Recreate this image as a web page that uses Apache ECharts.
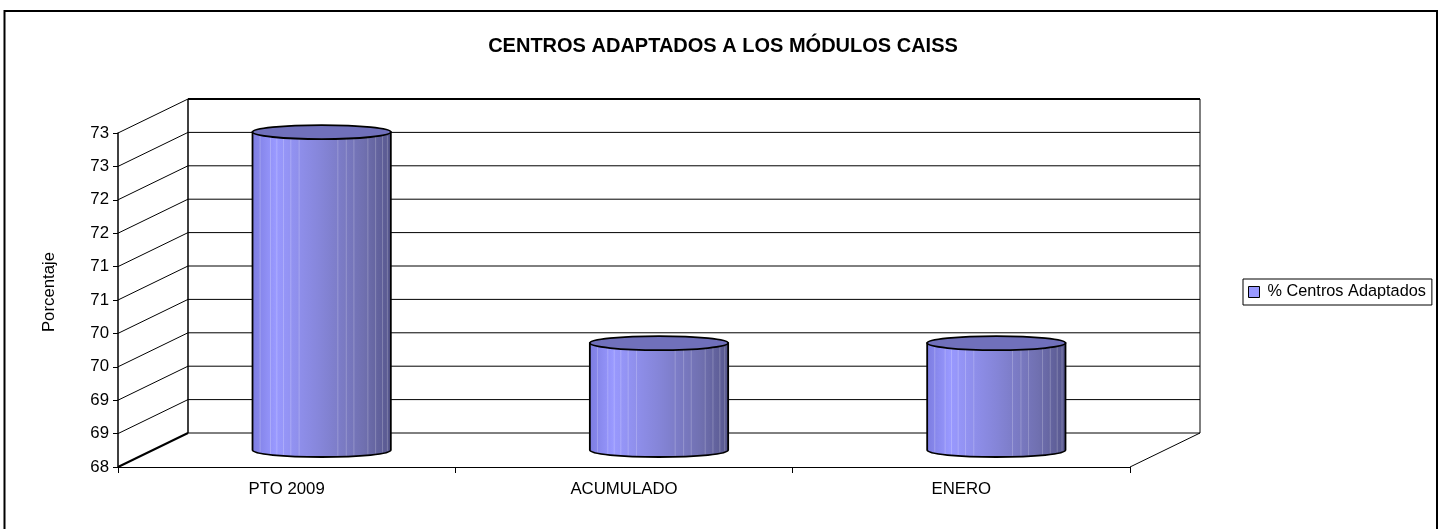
<!DOCTYPE html>
<html><head><meta charset="utf-8">
<style>html,body{margin:0;padding:0;background:#fff}#c{width:1446px;height:529px}</style>
<script src="https://cdn.jsdelivr.net/npm/echarts@6/dist/echarts.min.js"></script>
</head><body><div id="c"></div>
<script>
const categories = ['PTO 2009', 'ACUMULADO', 'ENERO'];
const seriesName = '% Centros Adaptados';
const values = [72.76, 69.6, 69.6];
const yTicks = [68, 68.5, 69, 69.5, 70, 70.5, 71, 71.5, 72, 72.5, 73];
const axisMin = 68, axisMax = 73, axisStep = 0.5;
const titleText = 'CENTROS ADAPTADOS A LOS MÓDULOS CAISS';
const yName = 'Porcentaje';

const DX = 70, DY = -34;         // oblique depth of the 3D box
const FONT = '"Liberation Sans", Arial, sans-serif';
const BAR_FRAC = 0.41, RY = 7;
const stripes = [.055,.13,.176,.224,.277,.337,.617,.678,.733,.834,.89,.94,.975];
const bodyFill = {type:'linear',x:0,y:0,x2:1,y2:0,colorStops:[
  {offset:0,color:'#7c7ce0'},{offset:.17,color:'#9999ff'},{offset:.5,color:'#8585d8'},
  {offset:.8,color:'#7070b0'},{offset:1,color:'#56568c'}]};

const ln = (x1,y1,x2,y2,w,stroke) => ({type:'line',shape:{x1,y1,x2,y2},style:{stroke:stroke||'#000',lineWidth:w||1},silent:true});

const chart = echarts.init(document.getElementById('c'), null, {renderer:'canvas'});
chart.setOption({
  animation:false,
  backgroundColor:'#fff',
  textStyle:{fontFamily:FONT},
  title:{text:titleText,left:718,top:31,textAlign:'center',
    textStyle:{fontFamily:FONT,fontSize:20,fontWeight:'bold',color:'#000'}},
  legend:{
    left:1243,top:279,orient:'vertical',padding:[5,6,5,5],
    borderColor:'#000',borderWidth:1,backgroundColor:'#fff',
    itemWidth:11,itemHeight:11,itemGap:0,
    textStyle:{fontFamily:FONT,fontSize:16.3,color:'#000',padding:[0,0,0,3]},
    data:[{name:seriesName,icon:'rect',itemStyle:{color:'#9999ff',borderColor:'#000',borderWidth:1}}]
  },
  graphic:[{type:'polyline',silent:true,z:-1,shape:{points:[[4.5,529],[4.5,11],[1437,11],[1437,529]]},
    style:{fill:'none',stroke:'#000',lineWidth:2}}],
  grid:{left:118,right:316,top:133,height:334,containLabel:false},
  xAxis:{type:'category',data:categories,boundaryGap:true,
    axisLine:{show:true,lineStyle:{color:'#000',width:1}},
    axisTick:{show:true,length:6,alignWithLabel:false,lineStyle:{color:'#000'}},
    axisLabel:{color:'#000',fontSize:16.8,fontFamily:FONT,margin:14,interval:0},
    splitLine:{show:false}},
  yAxis:{type:'value',min:axisMin,max:axisMax,interval:axisStep,
    name:yName,nameLocation:'middle',nameRotate:90,nameGap:60,
    nameTextStyle:{color:'#000',fontSize:16.8,fontFamily:FONT,padding:[0,0,0,16]},
    axisLine:{show:true,lineStyle:{color:'#000',width:1.5}},
    axisTick:{show:true,length:5,lineStyle:{color:'#000'}},
    axisLabel:{color:'#000',fontSize:16.8,fontFamily:FONT,margin:9,formatter:v=>String(Math.round(v))},
    splitLine:{show:false}},
  series:[
    { // box walls, drawn from the axis scale
      type:'custom',name:'walls',coordinateSystem:'cartesian2d',silent:true,z:1,
      data:yTicks.map(t=>[0,t]),clip:false,legendHoverLink:false,
      encode:{x:0,y:1},
      renderItem(params,api){
        const t=api.value(1);
        const halfBand=api.size([1,0])[0]/2;
        const p=api.coord([0,t]);
        const x0=p[0]-halfBand, y=p[1];
        const right=x0+halfBand*2*categories.length;
        const bottom=api.coord([0,axisMin])[1], top=api.coord([0,axisMax])[1];
        const ch=[ln(x0,y,x0+DX,y+DY,t===axisMin?2:1),
                  ln(x0+DX,y+DY,right+DX,y+DY,t===axisMax?2:1)];
        if(t===axisMin){
          ch.push(ln(x0+DX,top+DY,x0+DX,bottom+DY,1.5));
          ch.push(ln(right+DX,top+DY,right+DX,bottom+DY,1));
          ch.push(ln(right,bottom,right+DX,bottom+DY,1));
        }
        return {type:'group',children:ch};
      }
    },
    { // cylinders
      type:'custom',name:seriesName,coordinateSystem:'cartesian2d',z:3,clip:false,
      itemStyle:{color:'#9999ff'},
      data:values.map((v,i)=>[i,v]),
      encode:{x:0,y:1},
      renderItem(params,api){
        const i=api.value(0), v=api.value(1);
        const band=api.size([1,0])[0];
        const w=band*BAR_FRAC;
        const cx=api.coord([i,v])[0]+DX/2;
        const ty=api.coord([i,v])[1]+DY/2;
        const by=api.coord([i,axisMin])[1]+DY/2;
        const L=cx-w/2,R=cx+w/2;
        const k=0.5523;
        const bodyPath=`M${L} ${ty}L${L} ${by}C${L} ${by+RY*k*1.05} ${cx-w/2*k} ${by+RY} ${cx} ${by+RY}`+
          `C${cx+w/2*k} ${by+RY} ${R} ${by+RY*k*1.05} ${R} ${by}L${R} ${ty}Z`;
        const ch=[{type:'path',shape:{pathData:bodyPath},
          style:{fill:bodyFill,stroke:'#000',lineWidth:1.8}}];
        stripes.forEach(f=>ch.push(ln(L+w*f,ty+4,L+w*f,by+Math.sqrt(Math.max(0,1-Math.pow(2*f-1,2)))*RY-1,1,'rgba(255,255,255,0.22)')));
        ch.push({type:'ellipse',shape:{cx,cy:ty,rx:w/2,ry:RY},
          style:{fill:'#7070bb',stroke:'#000',lineWidth:1.8}});
        return {type:'group',children:ch};
      }
    }
  ]
});
</script></body></html>
